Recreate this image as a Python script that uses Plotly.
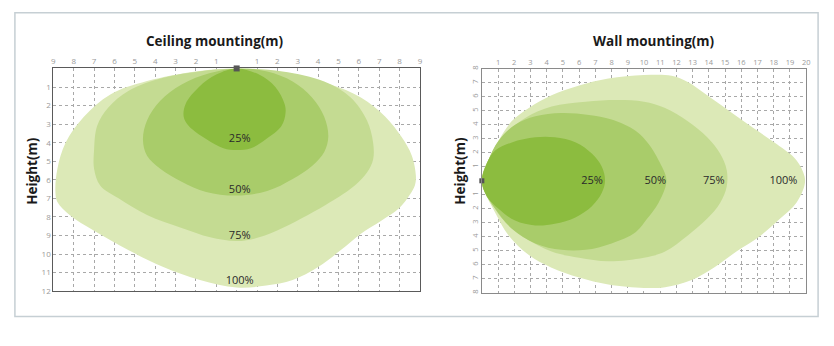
import plotly.graph_objects as go

W, H = 834, 346

# ---------------- data ----------------
levels = ["100%", "75%", "50%", "25%"]
fill_colors = ["#dce9b7", "#c4db92", "#a9cc6a", "#8cbc3f"]

# Ceiling mounting contours (x: horizontal distance m, y: height m, downward)
ceil_100_x = [0, -2.0, -4.4, -6.2, -7.5, -8.4, -8.8, -8.9, -8.8, -8.2, -7.0, -5.3, -3.6, -1.8, 0,
              1.45, 2.75, 4.0, 5.1, 6.1, 7.1, 8.0, 8.5, 8.75, 8.8, 8.6, 8.1, 7.3, 6.1, 4.6, 2.25, 0]
ceil_100_y = [0, 0.16, 0.68, 1.4, 2.6, 4.0, 5.4, 6.6, 7.2, 7.9, 8.75, 9.8, 10.7, 11.4, 11.8,
              11.7, 11.4, 10.7, 9.8, 8.9, 8.2, 7.5, 6.8, 6.3, 5.8, 4.7, 3.7, 2.6, 1.56, 0.86, 0.25, 0]
ceil_75_x = [0, -1.85, -3.6, -5.3, -6.3, -6.85, -7.0, -7.0, -6.7, -5.8, -4.4, -2.7, -1.3, 0,
             1.1, 2.25, 3.5, 4.6, 5.8, 6.4, 6.7, 6.7, 6.4, 5.6, 4.3, 2.25, 0]
ceil_75_y = [0, 0.16, 0.5, 1.2, 2.1, 3.1, 4.4, 5.4, 6.3, 7.0, 7.9, 8.6, 9.1, 9.3,
             9.1, 8.6, 7.9, 7.2, 6.3, 5.6, 4.9, 4.0, 2.8, 1.56, 0.7, 0.16, 0]
ceil_50_x = [0, -1.3, -2.7, -3.75, -4.4, -4.6, -4.4, -3.75, -2.7, -1.5, 0,
             1.5, 2.75, 3.7, 4.3, 4.5, 4.3, 3.7, 2.75, 1.5, 0]
ceil_50_y = [0, 0.25, 0.86, 1.74, 2.8, 3.84, 4.7, 5.4, 6.1, 6.65, 6.85,
             6.6, 5.95, 5.25, 4.5, 3.67, 2.6, 1.56, 0.7, 0.16, 0]
ceil_25_x = [0, -1.0, -1.85, -2.5, -2.6, -2.35, -1.5, -0.65, 0,
             0.7, 1.45, 2.2, 2.4, 2.35, 1.9, 1.1, 0]
ceil_25_y = [0, 0.33, 1.0, 1.9, 2.6, 3.1, 3.8, 4.3, 4.4,
             4.3, 3.8, 3.1, 2.4, 1.9, 1.0, 0.33, 0]
ceil_label_y = [11.45, 9.05, 6.55, 3.8]

# Wall mounting contours (x: distance m, y: height m)
wall_100_x = [0, 0.4, 1.03, 1.85, 2.9, 4.3, 6.0, 7.8, 10, 11.7, 12.7, 13.9, 15.3, 16.7, 18.2, 19.4, 19.9,
              19.9, 19.4, 18.4, 17.2, 15.7, 14.3, 12.9, 11.3, 10, 7.8, 6.0, 4.3, 2.9, 1.65, 0.82, 0.2, 0]
wall_100_y = [0, 1.47, 2.86, 4.26, 5.2, 6.1, 6.8, 7.3, 7.55, 7.5, 7.05, 6.1, 4.95, 3.8, 2.6, 1.47, 0.3,
              -0.3, -1.56, -2.7, -3.9, -5.05, -6.2, -7.1, -7.6, -7.65, -7.4, -6.9, -6.2, -5.3, -3.9, -2.26, -0.86, 0]
wall_75_x = [0, 0.6, 1.44, 2.7, 4.3, 6.4, 8.4, 10, 11.3, 12.7, 13.9, 14.7, 15.1,
             15.1, 14.7, 13.9, 12.7, 11.3, 10, 7.8, 6.0, 4.3, 2.7, 1.44, 0.6, 0]
wall_75_y = [0, 1.93, 3.3, 4.5, 5.3, 5.65, 5.77, 5.65, 5.2, 4.25, 3.1, 1.93, 0.77,
             -0.4, -1.56, -2.7, -3.9, -5.05, -5.5, -5.75, -5.5, -5.05, -4.1, -2.95, -1.56, 0]
wall_50_x = [0, 0.4, 1.03, 2.05, 3.3, 4.9, 6.6, 8.0, 9.5, 10.3, 10.9, 11.35,
             11.35, 10.9, 10.2, 9.5, 8.0, 6.4, 4.9, 3.3, 1.85, 0.82, 0.2, 0]
wall_50_y = [0, 1.47, 2.86, 4.0, 4.6, 4.84, 4.7, 4.37, 3.56, 2.6, 1.47, 0.3,
             -0.3, -1.56, -2.7, -3.65, -4.47, -4.93, -4.93, -4.47, -3.42, -2.0, -0.86, 0]
wall_25_x = [0, 0.3, 0.82, 1.85, 3.3, 4.5, 5.8, 6.8, 7.4, 7.6,
             7.4, 6.8, 5.8, 4.5, 3.3, 2.05, 1.03, 0.3, 0]
wall_25_y = [0, 1.23, 2.16, 2.74, 3.1, 3.1, 2.74, 1.93, 1.0, 0,
             -0.86, -1.8, -2.6, -3.07, -3.19, -2.84, -2.0, -1.1, 0]
wall_label_x = [18.6, 14.3, 10.7, 6.8]

ceil_xticks = list(range(-9, 10))
ceil_yticks = list(range(0, 13))
wall_xticks = list(range(0, 21))
wall_yticks = list(range(-8, 9))

# ---------------- figure ----------------
fig = go.Figure()

ceil_shapes = [(ceil_100_x, ceil_100_y), (ceil_75_x, ceil_75_y),
               (ceil_50_x, ceil_50_y), (ceil_25_x, ceil_25_y)]
wall_shapes = [(wall_100_x, wall_100_y), (wall_75_x, wall_75_y),
               (wall_50_x, wall_50_y), (wall_25_x, wall_25_y)]

for (xs, ys), col in zip(ceil_shapes, fill_colors):
    fig.add_trace(go.Scatter(x=xs, y=ys, mode="lines", fill="toself", fillcolor=col,
                             line=dict(width=0, shape="spline", smoothing=1.0, color=col),
                             hoverinfo="skip", showlegend=False, xaxis="x", yaxis="y"))
for (xs, ys), col in zip(wall_shapes, fill_colors):
    fig.add_trace(go.Scatter(x=xs, y=ys, mode="lines", fill="toself", fillcolor=col,
                             line=dict(width=0, shape="spline", smoothing=1.0, color=col),
                             hoverinfo="skip", showlegend=False, xaxis="x2", yaxis="y2"))

lab_font = dict(family="Open Sans, Noto Sans, sans-serif", size=11, color="#2a2a2a")
fig.add_trace(go.Scatter(x=[0.15] * 4, y=ceil_label_y, mode="text", text=levels,
                         textfont=lab_font, hoverinfo="skip", showlegend=False,
                         xaxis="x", yaxis="y", cliponaxis=False))
fig.add_trace(go.Scatter(x=wall_label_x, y=[0] * 4, mode="text", text=levels,
                         textfont=lab_font, hoverinfo="skip", showlegend=False,
                         xaxis="x2", yaxis="y2", cliponaxis=False))

# lamp markers
fig.add_trace(go.Scatter(x=[0], y=[0], mode="markers",
                         marker=dict(symbol="square", size=6, color="#555555"),
                         hoverinfo="skip", showlegend=False, xaxis="x", yaxis="y", cliponaxis=False))
fig.add_trace(go.Scatter(x=[0], y=[0], mode="markers",
                         marker=dict(symbol="square", size=5, color="#555555"),
                         hoverinfo="skip", showlegend=False, xaxis="x2", yaxis="y2", cliponaxis=False))

tick_font = dict(family="Open Sans, sans-serif", size=8, color="#9a9a9a")
grid_common = dict(showgrid=True, gridcolor="#a8a8a8", gridwidth=1, griddash="3px,3px",
                   zeroline=False, ticks="", showline=True, mirror=True, fixedrange=True)

def absl(v):
    return "" if v == 0 else str(abs(v))

fig.update_layout(
    width=W, height=H,
    margin=dict(l=0, r=0, t=0, b=0),
    paper_bgcolor="white", plot_bgcolor="white",
    showlegend=False,
    xaxis=dict(domain=[51.7 / W, 421 / W], range=[-9, 9], side="top",
               tickvals=ceil_xticks, ticktext=[absl(v) for v in ceil_xticks],
               tickfont=tick_font, linecolor="#5a5a5a", linewidth=1, **grid_common),
    yaxis=dict(domain=[1 - 295 / H, 1 - 67 / H], range=[12, 0],
               tickvals=ceil_yticks, ticktext=[absl(v) for v in ceil_yticks],
               tickfont=tick_font, linecolor="#5a5a5a", linewidth=1, **grid_common),
    xaxis2=dict(domain=[483.3 / W, 810 / W], range=[0, 20], side="top", anchor="y2",
                tickvals=wall_xticks, ticktext=[absl(v) for v in wall_xticks],
                tickfont=dict(family="Open Sans, sans-serif", size=7.5, color="#9a9a9a"),
                linecolor="#8a8a8a", linewidth=1, **grid_common),
    yaxis2=dict(domain=[1 - 296.7 / H, 1 - 67.3 / H], range=[-8, 8], anchor="x2",
                tickvals=wall_yticks, ticktext=[absl(v) for v in wall_yticks],
                tickangle=-90,
                tickfont=dict(family="Open Sans, sans-serif", size=7.5, color="#9a9a9a"),
                linecolor="#8a8a8a", linewidth=1, **grid_common),
)

title_font = dict(family="Open Sans, sans-serif", size=13.5, color="#1a1a1a")
fig.add_annotation(text="<b>Ceiling mounting(m)</b>", x=215 / W, y=1 - 39 / H,
                   xref="paper", yref="paper", showarrow=False, font=title_font,
                   xanchor="center", yanchor="middle")
fig.add_annotation(text="<b>Wall mounting(m)</b>", x=657 / W, y=1 - 39 / H,
                   xref="paper", yref="paper", showarrow=False, font=title_font,
                   xanchor="center", yanchor="middle")
fig.add_annotation(text="<b>Height(m)</b>", x=30 / W, y=1 - 172 / H,
                   xref="paper", yref="paper", showarrow=False, font=title_font,
                   textangle=-90, xanchor="center", yanchor="middle")
fig.add_annotation(text="<b>Height(m)</b>", x=461 / W, y=1 - 172 / H,
                   xref="paper", yref="paper", showarrow=False, font=title_font,
                   textangle=-90, xanchor="center", yanchor="middle")

# outer frame
fig.add_shape(type="rect", xref="paper", yref="paper",
              x0=13 / W, x1=822 / W, y0=1 - 321 / H, y1=1 - 10 / H,
              line=dict(color="#c6cfd4", width=1.5), fillcolor="rgba(0,0,0,0)", layer="below")

fig.write_html("out.html")
